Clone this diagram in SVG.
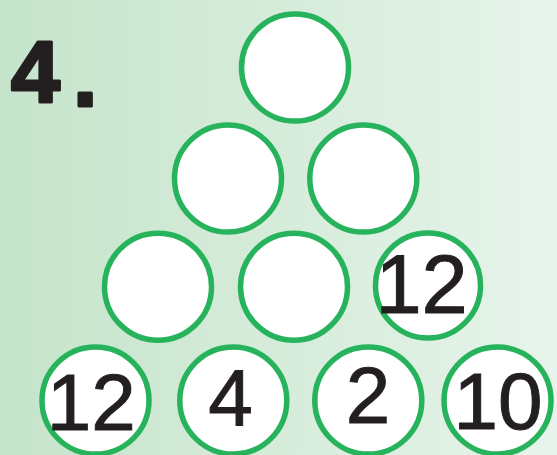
<svg xmlns="http://www.w3.org/2000/svg" width="557" height="455" viewBox="0 0 557 455">
<defs>
<linearGradient id="bg" x1="0" y1="0" x2="1" y2="0">
<stop offset="0" stop-color="#c5e4ca"/>
<stop offset="1" stop-color="#e7f4eb"/>
</linearGradient>
<style>
.c{fill:#fff;stroke:#27b35c;stroke-width:5.5}
.n{font-family:"Liberation Sans",Arial,sans-serif;font-size:80px;fill:#231f20;stroke:#231f20;stroke-width:1;text-anchor:middle}
.t{font-family:"Liberation Sans",Arial,sans-serif;font-size:88px;font-weight:bold;fill:#231f20;stroke:#231f20;stroke-width:3;stroke-linejoin:round}
</style>
</defs>
<rect width="557" height="455" fill="url(#bg)"/>
<g id="title"><text class="t" x="11" y="102">4</text><text class="t" x="73" y="106">.</text></g>
<g id="connectors"/>
<g id="r1c1"><circle class="c" cx="295" cy="67.5" r="53.5"/></g>
<g id="r2c1"><circle class="c" cx="228" cy="178.5" r="53.5"/></g>
<g id="r2c2"><circle class="c" cx="363.3" cy="178.5" r="53.5"/></g>
<g id="r3c1"><circle class="c" cx="158" cy="286.7" r="53.5"/></g>
<g id="r3c2"><circle class="c" cx="294" cy="286.7" r="53.5"/></g>
<g id="r3c3"><circle class="c" cx="428" cy="285.5" r="52.5"/><text class="n" x="421.6" y="313" style="font-size:83px">12</text></g>
<g id="r4c1"><circle class="c" cx="95.5" cy="400.5" r="53.5"/><text class="n" x="91.2" y="430">12</text></g>
<g id="r4c2"><circle class="c" cx="233.3" cy="400.5" r="53.5"/><text class="n" x="230.4" y="425">4</text></g>
<g id="r4c3"><circle class="c" cx="368.3" cy="400.5" r="53.5"/><text class="n" x="368" y="423">2</text></g>
<g id="r4c4"><circle class="c" cx="497.5" cy="400.5" r="53.5"/><text class="n" x="498" y="429">10</text></g>
</svg>
